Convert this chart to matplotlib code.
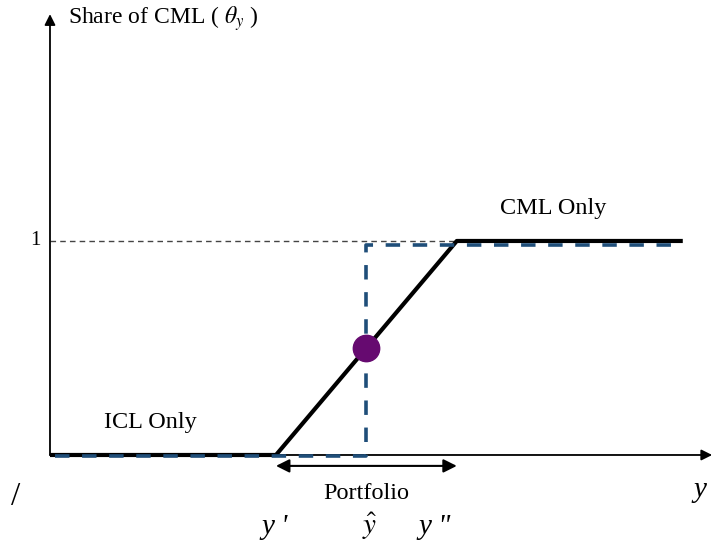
import matplotlib
matplotlib.use("Agg")
import matplotlib.pyplot as plt

plt.rcParams['font.family'] = ['Liberation Serif', 'DejaVu Serif']
plt.rcParams['mathtext.fontset'] = 'stix'

# piecewise share of CML
share_x = [0, 5, 9, 14]
share_y = [0, 0, 1, 1]
# dashed corner solution around y-hat
corner_x = [0.1, 7, 7, 14]
corner_y = [-0.005, -0.005, 0.98, 0.98]
y_prime, y_hat, y_dprime = 5, 7, 9
theta_hat = 0.5

fig = plt.figure(figsize=(7.17, 5.45), dpi=100)
ax = fig.add_axes([0, 0, 1, 1])
ax.set_xlim(-1.106, 14.757)
ax.set_ylim(-0.4206, 2.126)
ax.axis('off')

arrow = dict(arrowstyle='-|>', color='black', lw=1.3, mutation_scale=16, shrinkA=0, shrinkB=0)
ax.annotate('', xy=(0, 2.06), xytext=(0, 0), arrowprops=arrow)
ax.annotate('', xy=(14.65, 0), xytext=(0, 0), arrowprops=arrow)

# level 1 guide
ax.plot([0, y_dprime], [1, 1], color='#444444', lw=1, ls=(0, (4, 3)))

ax.plot(share_x, share_y, color='black', lw=3, solid_capstyle='butt', zorder=3)
ax.plot(corner_x, corner_y, color='#1f4e79', lw=2.6, ls=(0, (4, 3.5)), zorder=4)
ax.plot([y_hat], [theta_hat], 'o', color='#660a70', ms=19, zorder=5)

# portfolio range
ax.annotate('', xy=(y_dprime, -0.051), xytext=(y_prime, -0.051),
            arrowprops=dict(arrowstyle='<|-|>', color='black', lw=1.5,
                            mutation_scale=20, shrinkA=0, shrinkB=0))

ax.text(0.4, 2.04, r'Share of CML ( $\theta_y$ )', fontsize=17, va='center', ha='left')
ax.text(-0.33, 1, '1', fontsize=15, va='center', ha='center')
ax.text(2.21, 0.15, 'ICL Only', fontsize=17.5, va='center', ha='center')
ax.text(11.13, 1.154, 'CML Only', fontsize=17.5, va='center', ha='center')
ax.text(6.99, -0.182, 'Portfolio', fontsize=17.5, va='center', ha='center')

ax.text(y_prime - 0.02, -0.336, "y '", fontsize=21, style='italic', va='center', ha='center')
ax.text(y_hat + 0.08, -0.336, r"$\hat{y}$", fontsize=21, va='center', ha='center')
ax.text(8.52, -0.336, 'y "', fontsize=21, style='italic', va='center', ha='center')
ax.text(14.38, -0.164, "y", fontsize=21, style='italic', va='center', ha='center')
ax.text(-0.77, -0.196, "/", fontsize=24, va='center', ha='center')

fig.savefig('out.png', dpi=100)
